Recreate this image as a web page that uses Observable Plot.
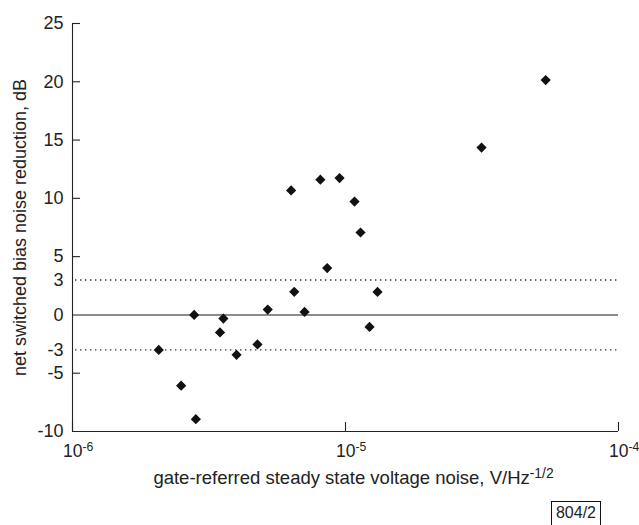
<!DOCTYPE html>
<html>
<head>
<meta charset="utf-8">
<script src="https://cdn.jsdelivr.net/npm/d3@7"></script>
<script src="https://cdn.jsdelivr.net/npm/@observablehq/plot@0.6"></script>
<style>
  body { margin: 0; background: #fff; }
  #wrap { position: relative; width: 639px; height: 525px; overflow: hidden; font-family: "Liberation Sans", Arial, sans-serif; }
  #tag { position: absolute; left: 551px; top: 501px; width: 50px; height: 26px; border: 1px solid #111; font-size: 16px; line-height: 22px; text-align: center; color: #222; box-sizing: border-box; }
</style>
</head>
<body>
<div id="wrap"><div id="tag">804/2</div></div>
<script>
// Data
const noise = [2.07e-6, 2.50e-6, 2.83e-6, 2.79e-6, 3.47e-6, 3.57e-6, 3.99e-6, 4.76e-6, 5.19e-6, 6.49e-6,
               6.32e-6, 7.08e-6, 8.09e-6, 9.51e-6, 1.079e-5, 1.135e-5, 8.57e-6, 1.31e-5, 1.225e-5, 3.15e-5, 5.41e-5];
const reduction = [-3.0, -6.07, -8.94, 0.0, -1.5, -0.31, -3.42, -2.53, 0.46, 1.98,
                   10.68, 0.26, 11.6, 11.74, 9.72, 7.07, 4.02, 1.97, -1.03, 14.36, 20.15];
const xTicks = [1e-6, 1e-5, 1e-4];
const xTickLabels = ["10^-6", "10^-5", "10^-4"];
const yTickMarks = [25, 20, 15, 10, 5, -5];
const yTickLabels = [25, 20, 15, 10, 5, 3, 0, -3, -5, -10];
const thresholds = [3, -3];
const xLabel = "gate-referred steady state voltage noise, V/Hz^-1/2";
const yLabel = "net switched bias noise reduction, dB";

const points = noise.map((x, i) => ({x, y: reduction[i]}));

const chart = Plot.plot({
  width: 639,
  height: 525,
  marginLeft: 72,
  marginRight: 21,
  marginTop: 23,
  marginBottom: 94,
  style: {fontFamily: "'Liberation Sans', Arial, sans-serif", fontSize: "18px", color: "#222", background: "#fff"},
  x: {type: "log", domain: [1e-6, 1e-4]},
  y: {domain: [-10, 25]},
  marks: [
    Plot.ruleY(thresholds, {stroke: "#333", strokeWidth: 1.4, strokeDasharray: "1.4,3.6", insetLeft: 3}),
    Plot.ruleY([0], {stroke: "#666", strokeWidth: 1.4}),
    Plot.ruleX([1e-6], {stroke: "#222", strokeWidth: 1.1}),
    Plot.ruleY([-10], {stroke: "#222", strokeWidth: 1.1}),
    Plot.axisY(yTickMarks, {tickSize: -8, tickFormat: () => "", stroke: "#222", strokeWidth: 1.1, label: null}),
    Plot.axisY(yTickLabels, {tickSize: 0, tickPadding: 9, fontSize: 18, label: null, fill: "#222", tickFormat: d => String(d)}),
    Plot.axisX(xTicks, {tickSize: -9, tickPadding: 22, fontSize: 17.5, label: null, stroke: "#222", strokeWidth: 1.1, fill: "#222",
      tickFormat: d => xTickLabels[xTicks.indexOf(d)]}),
    Plot.dot(points, {x: "x", y: "y", symbol: "diamond2", r: 4.6, fill: "#111", stroke: "none"}),
    Plot.text([xLabel], {frameAnchor: "bottom", dy: 47, dx: 8, fontSize: 18.5, fill: "#222", lineAnchor: "middle", textAnchor: "middle", text: d => d}),
    Plot.text([yLabel], {frameAnchor: "left", dx: -52, rotate: -90, fontSize: 18, fill: "#222", lineAnchor: "middle", textAnchor: "middle", text: d => d})
  ]
});

// Render exponents as raised text
function supify(textEl, size) {
  const s = textEl.textContent;
  const k = s.indexOf("^");
  if (k < 0) return;
  const base = s.slice(0, k), exp = s.slice(k + 1);
  textEl.textContent = "";
  const ns = "http://www.w3.org/2000/svg";
  const t1 = document.createElementNS(ns, "tspan"); t1.textContent = base;
  const t2 = document.createElementNS(ns, "tspan"); t2.textContent = exp;
  t2.setAttribute("dy", "-0.45em"); t2.setAttribute("font-size", size);
  textEl.appendChild(t1); textEl.appendChild(t2);
}
chart.querySelectorAll('g[aria-label="x-axis tick label"] text').forEach(t => {
  supify(t, "0.7em");
  t.setAttribute("text-anchor", "start");
  t.setAttribute("dx", "-9.5");
});
chart.querySelectorAll('g[aria-label="text"] text').forEach(t => supify(t, "0.75em"));

document.getElementById("wrap").prepend(chart);
</script>
</body>
</html>
